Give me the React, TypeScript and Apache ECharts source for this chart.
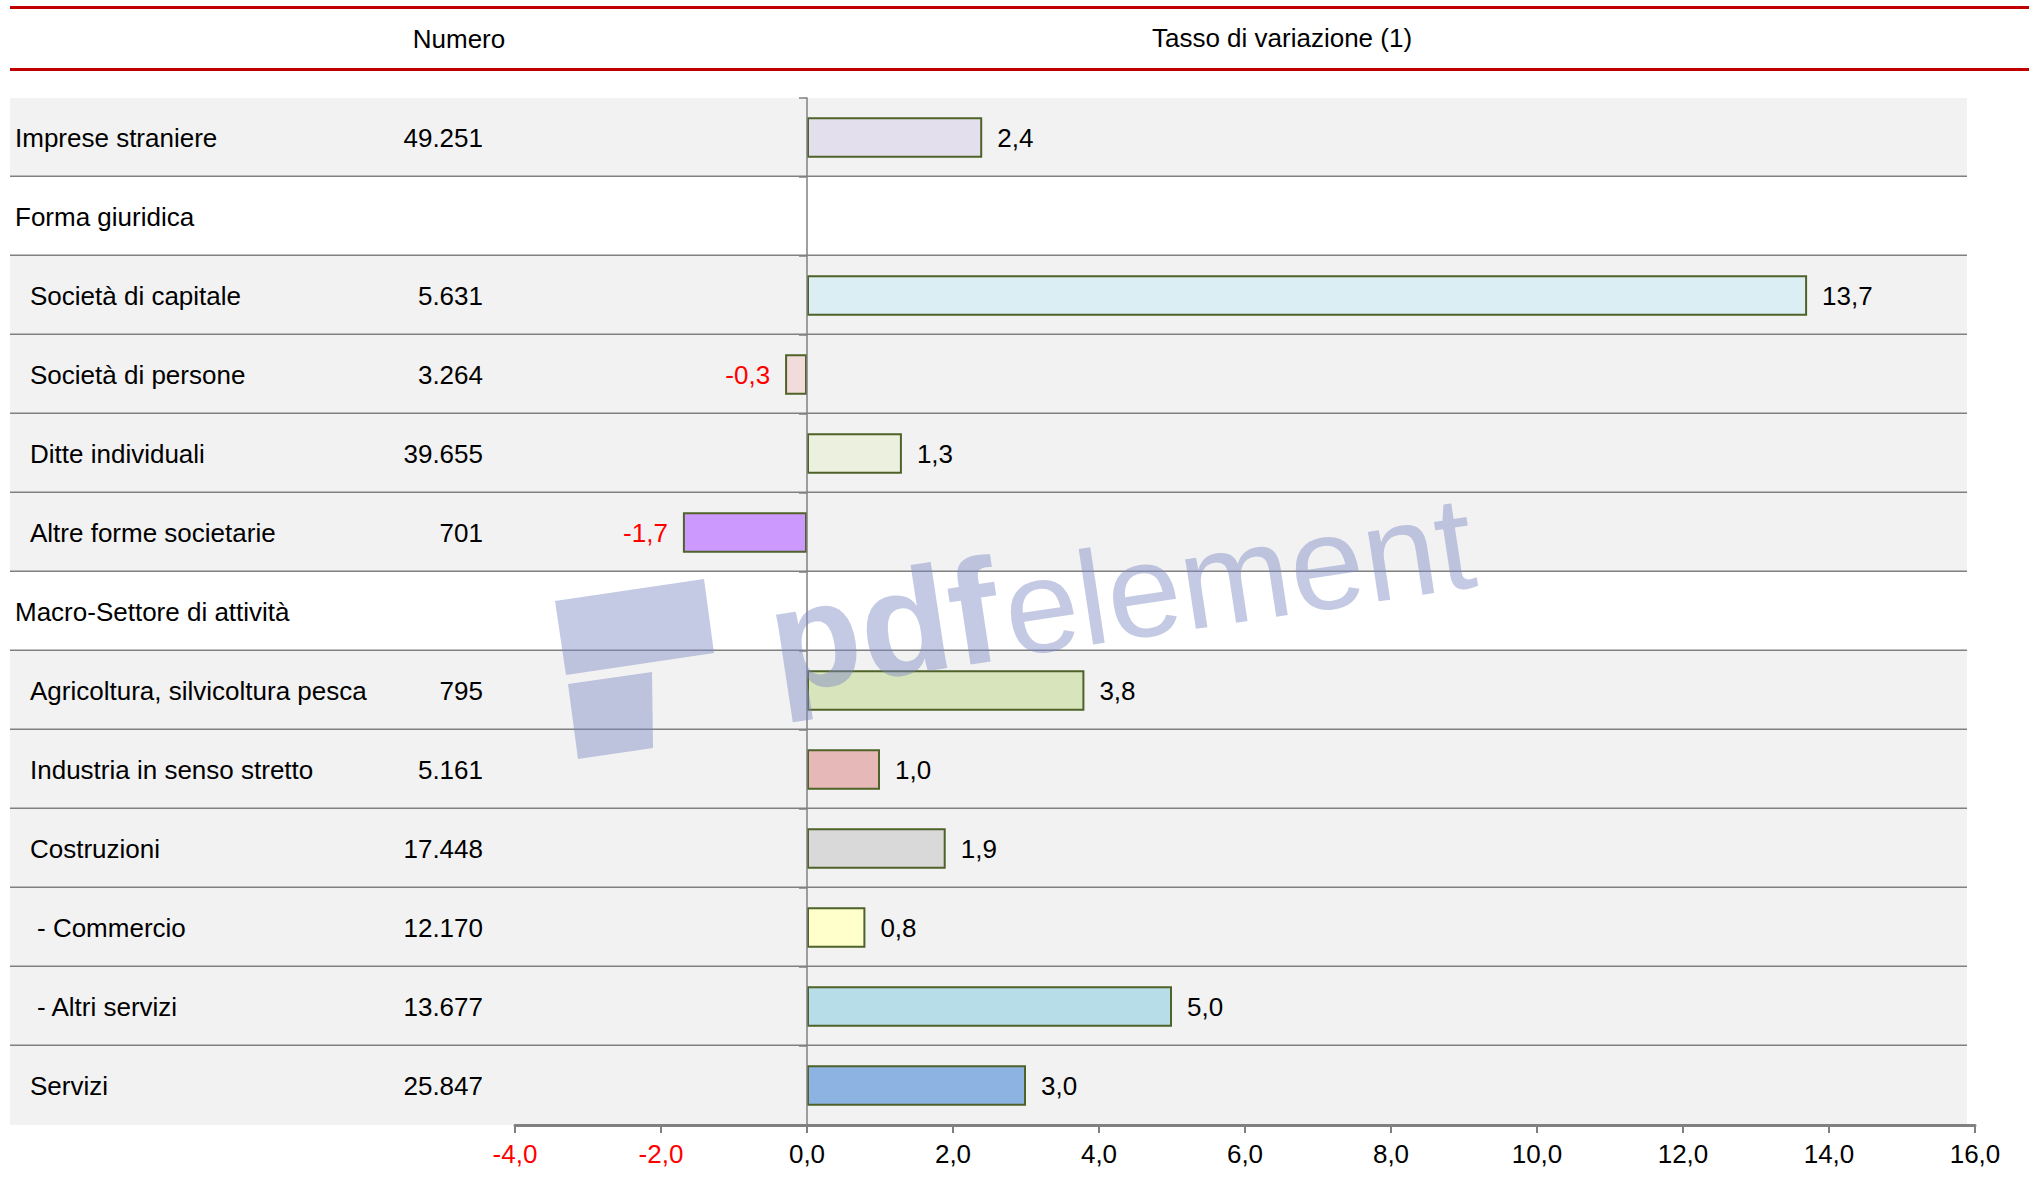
import React, { useEffect, useRef } from "react";
import * as echarts from "echarts";

// ---------- data ----------
const categories = [
  "Imprese straniere",
  "Forma giuridica",
  "Società di capitale",
  "Società di persone",
  "Ditte individuali",
  "Altre forme societarie",
  "Macro-Settore di attività",
  "Agricoltura, silvicoltura pesca",
  "Industria in senso stretto",
  "Costruzioni",
  "- Commercio",
  "- Altri servizi",
  "Servizi",
];
const indentLevels = [0, 0, 1, 1, 1, 1, 0, 1, 1, 1, 2, 2, 1];
const isSectionHeader = [false, true, false, false, false, false, true, false, false, false, false, false, false];
const numero: (number | null)[] = [49251, null, 5631, 3264, 39655, 701, null, 795, 5161, 17448, 12170, 13677, 25847];
const tassoVariazione: (number | null)[] = [2.4, null, 13.7, -0.3, 1.3, -1.7, null, 3.8, 1.0, 1.9, 0.8, 5.0, 3.0];
const barColors: (string | null)[] = [
  "#E4DFEC", null, "#DAEEF3", "#F2DCDB", "#EBF1DE", "#CC99FF", null,
  "#D7E4BC", "#E6B9B8", "#D9D9D9", "#FFFFCC", "#B7DEE8", "#8DB3E2",
];
const axisMin = -4;
const axisMax = 16;
const axisStep = 2;
const headerNumero = "Numero";
const headerTasso = "Tasso di variazione (1)";

// ---------- helpers ----------
const FONT = "Liberation Sans, Arial, Helvetica, sans-serif";
const fmtDec = (v: number) => v.toFixed(1).replace(".", ",");
const fmtInt = (v: number) => String(v).replace(/\B(?=(\d{3})+(?!\d))/g, ".");
const indentPx = [5, 20, 27];
const WM = "rgba(125,135,195,0.45)";

export default function App() {
  const ref = useRef<HTMLDivElement>(null);

  useEffect(() => {
    document.body.style.margin = "0";
    if (!ref.current) return;
    const chart = echarts.init(ref.current, null, { renderer: "svg" });

    const bandData = categories.map((_, i) => [0, i]);

    const option: any = {
      animation: false,
      backgroundColor: "#FFFFFF",
      textStyle: { fontFamily: FONT },
      grid: [
        { left: 515, right: 54, top: 98, bottom: 62 },
        { left: 10, right: 62, top: 98, bottom: 62 },
      ],
      xAxis: [
        {
          gridIndex: 0,
          type: "value",
          min: axisMin,
          max: axisMax,
          interval: axisStep,
          z: 4,
          axisLine: { show: true, onZero: false, lineStyle: { color: "#808080", width: 3 } },
          axisTick: { show: true, length: 8, lineStyle: { color: "#808080", width: 2 } },
          axisLabel: {
            fontSize: 26,
            fontFamily: FONT,
            margin: 16,
            color: (v: any) => (Number(v) < 0 ? "#FF0000" : "#000000"),
            formatter: (v: number) => fmtDec(v),
          },
          splitLine: { show: false },
        },
        { gridIndex: 1, type: "value", min: 0, max: 1, show: false },
      ],
      yAxis: [
        {
          gridIndex: 0,
          type: "category",
          data: categories,
          inverse: true,
          z: 4,
          axisLine: { show: true, onZero: true, lineStyle: { color: "#808080", width: 1.5 } },
          axisTick: { show: true, length: 8, lineStyle: { color: "#808080", width: 1.5 } },
          axisLabel: { show: false },
          splitLine: { show: false },
        },
        { gridIndex: 1, type: "category", data: categories, inverse: true, show: false },
      ],
      series: [
        {
          type: "custom",
          xAxisIndex: 1,
          yAxisIndex: 1,
          z: 1,
          clip: false,
          silent: true,
          data: bandData,
          encode: { x: 0, y: 1 },
          renderItem: (params: any, api: any) => {
            const i = api.value(1);
            const c = api.coord([0, i]);
            const h = api.size([0, 1])[1];
            const cs = params.coordSys;
            const top = c[1] - h / 2;
            const children: any[] = [
              {
                type: "rect",
                shape: { x: cs.x, y: top, width: cs.width, height: h },
                style: { fill: isSectionHeader[i] ? "#FFFFFF" : "#F2F2F2" },
              },
            ];
            if (i < categories.length - 1) {
              children.push({
                type: "line",
                shape: { x1: cs.x, y1: top + h, x2: cs.x + cs.width, y2: top + h },
                style: { stroke: "#808080", lineWidth: 3 },
              });
            }
            children.push({
              type: "text",
              x: cs.x + indentPx[indentLevels[i]],
              y: c[1],
              style: {
                text: categories[i],
                fill: "#000000",
                fontSize: 26,
                fontFamily: FONT,
                align: "left",
                verticalAlign: "middle",
              },
            });
            const n = numero[i];
            if (n != null) {
              children.push({
                type: "text",
                x: cs.x + 473,
                y: c[1],
                style: {
                  text: fmtInt(n),
                  fill: "#000000",
                  fontSize: 26,
                  fontFamily: FONT,
                  align: "right",
                  verticalAlign: "middle",
                },
              });
            }
            return { type: "group", children };
          },
        },
        {
          type: "bar",
          xAxisIndex: 0,
          yAxisIndex: 0,
          z: 3,
          barWidth: "51%",
          data: tassoVariazione.map((v, i) =>
            v == null
              ? "-"
              : {
                  value: v,
                  itemStyle: { color: barColors[i], borderColor: "#4F6228", borderWidth: 2 },
                  label: {
                    show: true,
                    position: v < 0 ? "left" : "right",
                    distance: 15,
                    color: v < 0 ? "#FF0000" : "#000000",
                    fontSize: 26,
                    fontFamily: FONT,
                    formatter: (p: any) => fmtDec(p.value),
                  },
                }
          ),
        },
      ],
      graphic: [
        { type: "line", z: 10, shape: { x1: 10, y1: 7.5, x2: 2029, y2: 7.5 }, style: { stroke: "#C00000", lineWidth: 3 } },
        { type: "line", z: 10, shape: { x1: 10, y1: 69.5, x2: 2029, y2: 69.5 }, style: { stroke: "#C00000", lineWidth: 3 } },
        {
          type: "text", z: 10, x: 459, y: 39,
          style: { text: headerNumero, fill: "#000000", fontSize: 26, fontFamily: FONT, align: "center", verticalAlign: "middle" },
        },
        {
          type: "text", z: 10, x: 1282, y: 38,
          style: { text: headerTasso, fill: "#000000", fontSize: 26, fontFamily: FONT, align: "center", verticalAlign: "middle" },
        },
        // watermark (overlay from the source PDF)
        {
          type: "polygon", z: 100, silent: true,
          shape: { points: [[555, 601], [704, 579], [714, 653], [566, 675]] },
          style: { fill: WM },
        },
        {
          type: "polygon", z: 100, silent: true,
          shape: { points: [[568, 684], [652, 672], [653, 748], [578, 759]] },
          style: { fill: WM },
        },
        {
          type: "group", z: 100, x: 778, y: 693, rotation: 0.15, silent: true,
          children: [
            {
              type: "text", x: 0, y: -51, z: 100,
              style: { text: "pdf", fill: WM, fontSize: 148, fontWeight: "bold", fontFamily: FONT, align: "left", verticalAlign: "middle" },
            },
            {
              type: "text", x: 236, y: -47, z: 100,
              style: { text: "element", fill: WM, fontSize: 133, fontFamily: FONT, align: "left", verticalAlign: "middle" },
            },
          ],
        },
      ],
    };

    chart.setOption(option);
    return () => chart.dispose();
  }, []);

  return <div ref={ref} style={{ width: 2029, height: 1187 }} />;
}
